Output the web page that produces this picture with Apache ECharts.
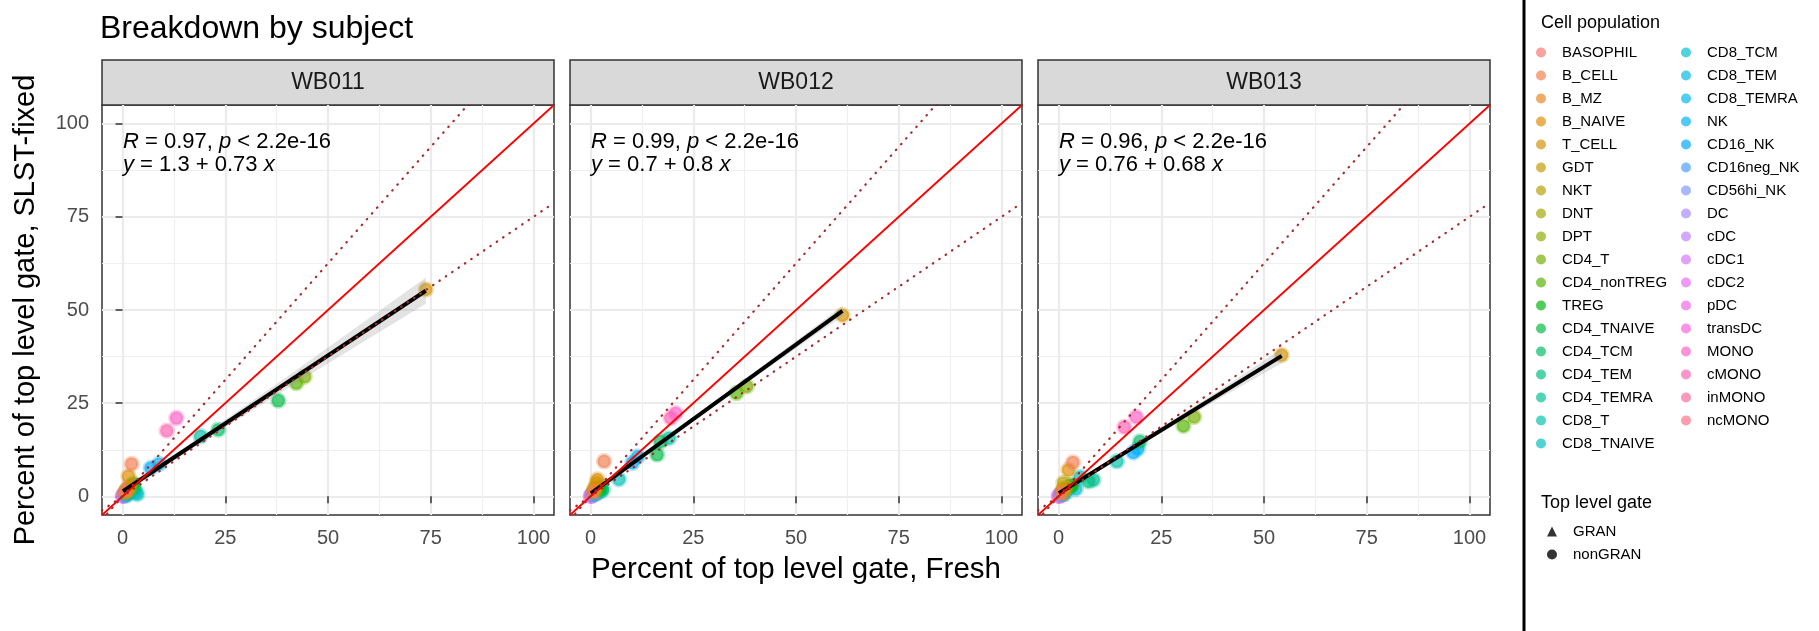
<!DOCTYPE html>
<html>
<head>
<meta charset="utf-8">
<script src="https://cdn.jsdelivr.net/npm/echarts@6/dist/echarts.min.js"></script>
<style>
  html, body { margin: 0; padding: 0; background: #fff; }
  #myChart { width: 1819px; height: 631px; }
</style>
</head>
<body>
<div id="myChart"></div>
<script>
// cell populations, in legend order
const populations = [
  "BASOPHIL", "B_CELL", "B_MZ", "B_NAIVE", "T_CELL", "GDT", "NKT", "DNT", "DPT",
  "CD4_T", "CD4_nonTREG", "TREG", "CD4_TNAIVE", "CD4_TCM", "CD4_TEM", "CD4_TEMRA",
  "CD8_T", "CD8_TNAIVE", "CD8_TCM", "CD8_TEM", "CD8_TEMRA", "NK", "CD16_NK",
  "CD16neg_NK", "CD56hi_NK", "DC", "cDC", "cDC1", "cDC2", "pDC", "transDC",
  "MONO", "cMONO", "inMONO", "ncMONO"
];
const granPopulations = ["BASOPHIL"];
const subjects = ["WB011", "WB012", "WB013"];

// percent of top level gate (same order as populations)
const freshWB011 = [0.4, 2.2, 0.6, 1.45, 73.8, 1.8, 1.2, 0.9, 1.0, 44.3, 42.3, 2.6, 37.9, 23.3, 2.9, 1.4,
  19.0, 3.6, 1.0, 2.3, 3.1, 8.9, 6.9, 0.6, 0.5, 0.9, 0.6, 0.1, 0.4, 0.2, 0.1, 13.1, 10.75, 0.9, 0.7];
const fixedWB011 = [2.2, 8.7, 1.0, 5.4, 55.5, 2.5, 1.6, 1.4, 1.9, 32.1, 30.4, 3.4, 25.7, 17.9, 2.3, 0.9,
  16.1, 0.6, 0.2, 1.3, 1.1, 8.7, 7.6, 0.7, 0.5, 0.7, 0.4, 0.1, 0.3, 0.2, 0.2, 21.0, 17.6, 1.3, 1.0];
const freshWB012 = [0.3, 3.3, 0.8, 1.7, 61.3, 1.5, 1.0, 0.9, 1.2, 38.0, 35.5, 2.2, 16.2, 17.0, 3.0, 2.5,
  19.1, 6.9, 1.2, 2.6, 1.8, 11.5, 10.2, 0.7, 0.5, 0.8, 0.5, 0.1, 0.4, 0.2, 0.1, 20.7, 19.5, 0.8, 0.6];
const fixedWB012 = [1.2, 9.4, 1.6, 4.5, 48.6, 3.6, 2.0, 1.3, 2.4, 29.5, 27.7, 2.2, 11.2, 14.7, 1.8, 1.4,
  15.6, 4.6, 0.6, 2.4, 1.0, 10.7, 9.0, 0.6, 0.4, 0.7, 0.5, 0.1, 0.4, 0.2, 0.1, 22.3, 21.0, 1.0, 0.8];
const freshWB013 = [0.3, 3.5, 0.9, 2.4, 54.3, 1.7, 1.2, 1.2, 1.3, 33.0, 30.4, 3.2, 3.0, 19.8, 7.3, 8.5,
  14.2, 5.3, 1.0, 4.2, 1.8, 19.3, 18.2, 0.8, 0.6, 1.0, 0.6, 0.1, 0.5, 0.2, 0.1, 18.9, 16.0, 1.0, 0.7];
const fixedWB013 = [0.8, 9.1, 1.4, 7.1, 37.9, 2.3, 3.6, 1.0, 2.0, 21.3, 18.9, 3.0, 2.6, 14.7, 4.0, 4.4,
  9.4, 5.2, 0.5, 2.0, 0.9, 12.8, 11.8, 0.6, 0.4, 0.8, 0.5, 0.1, 0.4, 0.2, 0.1, 21.3, 18.6, 1.3, 0.9];

// correlation and linear fit per subject
const corR = ["0.97", "0.99", "0.96"];
const fitIntercept = [1.3, 0.7, 0.76];
const fitSlope = [0.73, 0.8, 0.68];

// confidence band of the fit
const bandXWB011 = [0, 20, 40, 60, 73.8];
const bandLoWB011 = [0.4, 15.1, 28.9, 42.4, 51.7];
const bandHiWB011 = [2.2, 16.7, 32.1, 47.8, 58.7];
const bandXWB012 = [0, 20, 40, 61.3];
const bandLoWB012 = [0.3, 16.3, 32.0, 48.3];
const bandHiWB012 = [1.1, 17.1, 33.4, 51.1];
const bandXWB013 = [0, 20, 40, 54.3];
const bandLoWB013 = [0.1, 13.7, 26.8, 35.7];
const bandHiWB013 = [1.4, 15.0, 29.1, 39.7];

// reference lines y = k x
const refSlopes = [1, 1.25, 0.75];

const axisMin = -5, axisMax = 105;
const majorTicks = [0, 25, 50, 75, 100];
const minorTicks = [12.5, 37.5, 62.5, 87.5];

const fresh = [freshWB011, freshWB012, freshWB013];
const fixed = [fixedWB011, fixedWB012, fixedWB013];
const bandX = [bandXWB011, bandXWB012, bandXWB013];
const bandLo = [bandLoWB011, bandLoWB012, bandLoWB013];
const bandHi = [bandHiWB011, bandHiWB012, bandHiWB013];

// layout
const FONT = "Liberation Sans, Arial, Helvetica, sans-serif";
const panelLeft = [102, 570, 1038];
const panelTop = 105, panelW = 452, panelH = 410, stripTop = 60, stripH = 45;

// ggplot hue palette (hcl, c = 100, l = 65)
function hclRgb(h, c, l) {
  const hr = h * Math.PI / 180;
  const U = c * Math.cos(hr), V = c * Math.sin(hr);
  const Xn = 95.047, Yn = 100, Zn = 108.883;
  const un = 4 * Xn / (Xn + 15 * Yn + 3 * Zn), vn = 9 * Yn / (Xn + 15 * Yn + 3 * Zn);
  const Y = Yn * Math.pow((l + 16) / 116, 3);
  const u = U / (13 * l) + un, v = V / (13 * l) + vn;
  const X = 9 * Y * u / (4 * v), Z = Y * (12 - 3 * u - 20 * v) / (4 * v);
  const x = X / 100, y = Y / 100, z = Z / 100;
  const lin = [
    3.240479 * x - 1.53715 * y - 0.498535 * z,
    -0.969256 * x + 1.875992 * y + 0.041556 * z,
    0.055648 * x - 0.204043 * y + 1.057311 * z
  ];
  return lin.map(function (t) {
    let g = t <= 0.0031308 ? 12.92 * t : 1.055 * Math.pow(t, 1 / 2.4) - 0.055;
    g = Math.min(1, Math.max(0, g));
    return Math.round(g * 255);
  });
}
const palette = populations.map(function (p, i) {
  return hclRgb(15 + i * 360 / populations.length, 100, 65);
});
function rgba(i, a) {
  const c = palette[i];
  return "rgba(" + c[0] + "," + c[1] + "," + c[2] + "," + a + ")";
}

let chart = echarts.init(document.getElementById("myChart"));

let grids = [], xAxes = [], yAxes = [], series = [], graphics = [];

subjects.forEach(function (s, p) {
  grids.push({
    left: panelLeft[p], top: panelTop, width: panelW, height: panelH,
    show: true, backgroundColor: "#fff", borderColor: "#333333", borderWidth: 1.5,
    containLabel: false
  });
  xAxes.push({
    type: "value", gridIndex: p, min: axisMin, max: axisMax,
    axisLine: { show: false },
    axisTick: { show: true, customValues: majorTicks, length: 7, lineStyle: { color: "#333333", width: 1.5 } },
    axisLabel: { show: true, customValues: majorTicks, margin: 13, fontSize: 20, color: "#4D4D4D", fontFamily: FONT },
    splitLine: { show: true, lineStyle: { color: "#EBEBEB", width: 2.2 } },
    name: p === 1 ? "Percent of top level gate, Fresh" : "",
    nameLocation: "middle", nameGap: 40,
    nameTextStyle: { fontSize: 29.5, color: "#000", fontFamily: FONT }
  });
  yAxes.push({
    type: "value", gridIndex: p, min: axisMin, max: axisMax,
    axisLine: { show: false },
    axisTick: { show: p === 0, customValues: majorTicks, length: 7, lineStyle: { color: "#333333", width: 1.5 } },
    axisLabel: { show: p === 0, customValues: majorTicks, margin: 13, fontSize: 20, color: "#4D4D4D", fontFamily: FONT },
    splitLine: { show: true, lineStyle: { color: "#EBEBEB", width: 2.2 } },
    name: p === 0 ? "Percent of top level gate, SLST-fixed" : "",
    nameLocation: "middle", nameGap: 62,
    nameTextStyle: { fontSize: 29, color: "#000", fontFamily: FONT }
  });
});
// minor grid lines
subjects.forEach(function (s, p) {
  xAxes.push({
    type: "value", gridIndex: p, min: axisMin, max: axisMax, position: "top",
    axisLine: { show: false }, axisTick: { show: false, customValues: minorTicks },
    axisLabel: { show: false, customValues: minorTicks },
    splitLine: { show: true, lineStyle: { color: "#EFEFEF", width: 1.2 } }
  });
  yAxes.push({
    type: "value", gridIndex: p, min: axisMin, max: axisMax, position: "right",
    axisLine: { show: false }, axisTick: { show: false, customValues: minorTicks },
    axisLabel: { show: false, customValues: minorTicks },
    splitLine: { show: true, lineStyle: { color: "#EFEFEF", width: 1.2 } }
  });
});

subjects.forEach(function (s, p) {
  const xs = fresh[p], ys = fixed[p];
  // points, drawn last-to-first so the early populations sit on top
  for (let i = populations.length - 1; i >= 0; i--) {
    const name = populations[i];
    series.push({
      type: "scatter", name: name, xAxisIndex: p, yAxisIndex: p, z: 2,
      symbol: granPopulations.indexOf(name) >= 0 ? "triangle" : "circle",
      symbolSize: 13,
      data: [[xs[i], ys[i]]],
      itemStyle: { color: rgba(i, 0.85), borderColor: rgba(i, 0.4), borderWidth: 3.5 },
      emphasis: { disabled: true }, silent: true
    });
  }
  // confidence band
  series.push({
    type: "custom", xAxisIndex: p, yAxisIndex: p, z: 3, silent: true,
    data: [[0, 0]],
    renderItem: function (params, api) {
      const pts = [];
      bandX[p].forEach(function (x, k) { pts.push(api.coord([x, bandLo[p][k]])); });
      for (let k = bandX[p].length - 1; k >= 0; k--) pts.push(api.coord([bandX[p][k], bandHi[p][k]]));
      return { type: "polygon", shape: { points: pts }, style: { fill: "rgba(153,153,153,0.28)" } };
    }
  });
  // fitted line over the data range
  const xmin = Math.min.apply(null, xs), xmax = Math.max.apply(null, xs);
  series.push({
    type: "line", xAxisIndex: p, yAxisIndex: p, z: 4, symbol: "none", silent: true,
    data: [[xmin, fitIntercept[p] + fitSlope[p] * xmin], [xmax, fitIntercept[p] + fitSlope[p] * xmax]],
    lineStyle: { color: "#000", width: 4 }
  });
  // reference lines
  refSlopes.forEach(function (k) {
    series.push({
      type: "line", xAxisIndex: p, yAxisIndex: p, z: 5, symbol: "none", silent: true, clip: true,
      data: [[axisMin, axisMin * k], [axisMax, axisMax * k]],
      lineStyle: k === 1
        ? { color: "#FF0000", width: 1.8 }
        : { color: "#A62A2A", width: 2.2, type: [0.5, 7.2], cap: "round" }
    });
  });

  // facet strip
  graphics.push({
    type: "rect", silent: true,
    shape: { x: panelLeft[p], y: stripTop, width: panelW, height: stripH },
    style: { fill: "#D9D9D9", stroke: "#333333", lineWidth: 1.5 }
  });
  graphics.push({
    type: "text", silent: true, x: panelLeft[p] + panelW / 2, y: stripTop + stripH / 2,
    style: { text: s, fontSize: 23, fontFamily: FONT, fill: "#1A1A1A",
      align: "center", verticalAlign: "middle", textAlign: "center", textVerticalAlign: "middle" }
  });
  // correlation label
  graphics.push({
    type: "text", silent: true, x: panelLeft[p] + 21, y: 130, z: 10,
    style: {
      text: "{i|R} = " + corR[p] + ", {i|p} < 2.2e-16\n{i|y} = " + fitIntercept[p] + " + " + fitSlope[p] + " {i|x}",
      fontSize: 22, fontFamily: FONT, fill: "#000", lineHeight: 23,
      rich: { i: { fontStyle: "italic", fontSize: 22, fontFamily: FONT, lineHeight: 23 } }
    }
  });
});

// shape legend entries
series.push({ type: "scatter", name: "GRAN", symbol: "triangle", data: [], itemStyle: { color: "#000" } });
series.push({ type: "scatter", name: "nonGRAN", symbol: "circle", data: [], itemStyle: { color: "#000" } });

// legend box edge
graphics.push({
  type: "line", silent: true,
  shape: { x1: 1524, y1: 0, x2: 1524, y2: 631 },
  style: { stroke: "#000", lineWidth: 3 }
});

const legendCommon = {
  orient: "vertical", padding: 0, itemWidth: 32, itemHeight: 10, itemGap: 8,
  selectedMode: false, icon: "circle",
  itemStyle: { borderWidth: 0 },
  textStyle: { fontSize: 15, color: "#000", fontFamily: FONT }
};

let option = {
  animation: false,
  textStyle: { fontFamily: FONT },
  title: [
    { text: "Breakdown by subject", left: 100, top: 13, padding: 0,
      textStyle: { fontSize: 32, fontWeight: "normal", color: "#000", fontFamily: FONT } },
    { text: "Cell population", left: 1541, top: 14, padding: 0,
      textStyle: { fontSize: 18, fontWeight: "normal", color: "#000", fontFamily: FONT } },
    { text: "Top level gate", left: 1541, top: 494, padding: 0,
      textStyle: { fontSize: 18, fontWeight: "normal", color: "#000", fontFamily: FONT } }
  ],
  legend: [
    Object.assign({}, legendCommon, { data: populations.slice(0, 18), left: 1536, top: 45 }),
    Object.assign({}, legendCommon, { data: populations.slice(18), left: 1681, top: 45 }),
    Object.assign({}, legendCommon, {
      data: [{ name: "GRAN", icon: "triangle" }, { name: "nonGRAN", icon: "circle" }],
      left: 1547, top: 524, itemWidth: 10,
      textStyle: { fontSize: 15, color: "#000", fontFamily: FONT, padding: [0, 0, 0, 11] }
    })
  ],
  grid: grids,
  xAxis: xAxes,
  yAxis: yAxes,
  series: series,
  graphic: graphics
};
chart.setOption(option);
</script>
</body>
</html>
